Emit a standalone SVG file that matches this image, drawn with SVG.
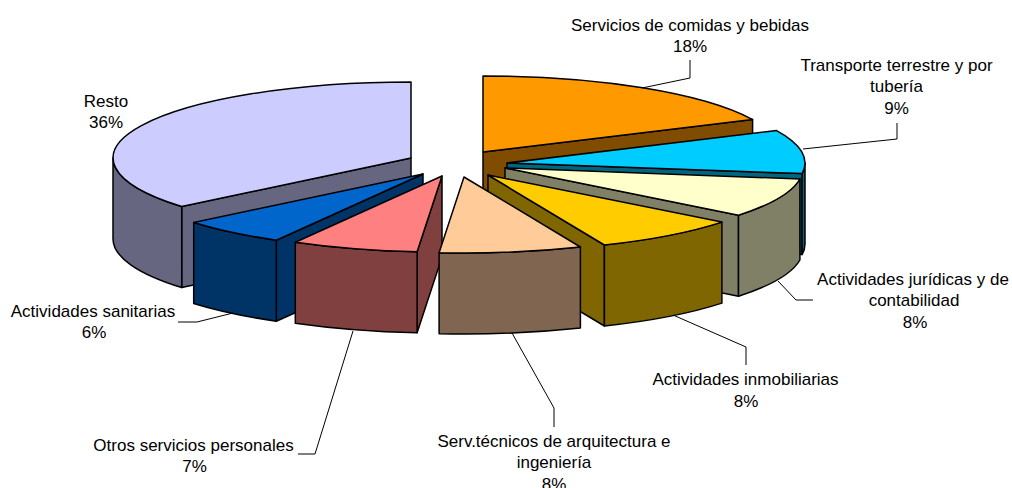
<svg xmlns="http://www.w3.org/2000/svg" width="1012" height="488" viewBox="0 0 1012 488">
<style>
  .f { stroke: #000; stroke-width: 1.5; stroke-linejoin: round; }
  .lbl { font-family: "Liberation Sans", Arial, sans-serif; font-size: 17px; fill: #000; text-anchor: middle; }
  .lead { fill: none; stroke: #000; stroke-width: 1; }
</style>
<rect width="1012" height="488" fill="#fff"/>

<g id="resto">
  <path class="f" fill="#666680" d="M411,158 L181.7,206.5 L181.7,287.5 L411,239 Z"/>
  <path class="f" fill="#666680" d="M181.7,206.5 A298,76 0 0 1 113,158 L113,239 A298,76 0 0 0 181.7,287.5 Z"/>
  <path class="f" fill="#CCCCFF" d="M411,158 L181.7,206.5 A298,76 0 0 1 411,82 Z"/>
</g>

<g id="comidas">
  <path class="f" fill="#804C00" d="M483,152 L752.6,119.6 L752.6,200.6 L483,233 Z"/>
  <path class="f" fill="#FF9900" d="M483,152 L483,76 A298,76 0 0 1 752.6,119.6 Z"/>
</g>

<g id="transporte">
  <path class="f" fill="#006680" d="M507,163 L802.1,173.6 L802.1,254.6 L507,244 Z"/>
  <path class="f" fill="#006680" d="M805,163 A298,76 0 0 1 802.1,173.6 L802.1,254.6 A298,76 0 0 0 805,244 Z"/>
  <path class="f" fill="#00CCFF" d="M507,163 L776.6,130.6 A298,76 0 0 1 802.1,173.6 Z"/>
</g>

<g id="juridicas">
  <path class="f" fill="#808066" d="M505,168 L738.5,215.2 L738.5,296.2 L505,249 Z"/>
  <path class="f" fill="#808066" d="M799.9,179 A298,76 0 0 1 738.5,215.2 L738.5,296.2 A298,76 0 0 0 799.9,260 Z"/>
  <path class="f" fill="#FFFFCC" d="M505,168 L799.9,179 A298,76 0 0 1 738.5,215.2 Z"/>
</g>

<g id="inmobiliarias">
  <path class="f" fill="#806600" d="M488,175 L604.4,245 L604.4,326 L488,256 Z"/>
  <path class="f" fill="#806600" d="M721.9,222.1 A298,76 0 0 1 604.4,245 L604.4,326 A298,76 0 0 0 721.9,303.1 Z"/>
  <path class="f" fill="#FFCC00" d="M488,175 L721.9,222.1 A298,76 0 0 1 604.4,245 Z"/>
</g>

<g id="sanitarias">
  <path class="f" fill="#003366" d="M423,174 L276.3,240.2 L276.3,321.2 L423,255 Z"/>
  <path class="f" fill="#003366" d="M276.3,240.2 A298,76 0 0 1 193.7,222.5 L193.7,303.5 A298,76 0 0 0 276.3,321.2 Z"/>
  <path class="f" fill="#0066CC" d="M423,174 L276.3,240.2 A298,76 0 0 1 193.7,222.5 Z"/>
</g>

<g id="otros">
  <path class="f" fill="#804040" d="M442,176 L417.1,251.7 L417.1,332.7 L442,257 Z"/>
  <path class="f" fill="#804040" d="M417.1,251.7 A298,76 0 0 1 295.3,242.2 L295.3,323.2 A298,76 0 0 0 417.1,332.7 Z"/>
  <path class="f" fill="#FF8080" d="M442,176 L417.1,251.7 A298,76 0 0 1 295.3,242.2 Z"/>
</g>

<g id="tecnicos">
  <path class="f" fill="#806650" d="M580.4,247 A298,76 0 0 1 439.1,252.7 L439.1,333.7 A298,76 0 0 0 580.4,328 Z"/>
  <path class="f" fill="#FFCC99" d="M464,177 L580.4,247 A298,76 0 0 1 439.1,252.7 Z"/>
</g>

<g id="connectors">
  <polyline class="lead" points="690,60 690,78 642,88"/>
  <polyline class="lead" points="897,123 897,139 803,149"/>
  <polyline class="lead" points="813,300 796,300 778,281"/>
  <polyline class="lead" points="746,365 746,347 673,315"/>
  <polyline class="lead" points="554,427 554,408 512,333"/>
  <polyline class="lead" points="298,454 315,454 353,331"/>
  <polyline class="lead" points="178,322 197,322 233,313"/>
</g>

<g id="labels">
  <text class="lbl" x="690" y="30.5">Servicios de comidas y bebidas</text>
  <text class="lbl" x="690" y="52">18%</text>
  <text class="lbl" x="896.5" y="70.5">Transporte terrestre y por</text>
  <text class="lbl" x="896.5" y="92.2">tubería</text>
  <text class="lbl" x="896.5" y="114">9%</text>
  <text class="lbl" x="913" y="284.5">Actividades jurídicas y de</text>
  <text class="lbl" x="914" y="306">contabilidad</text>
  <text class="lbl" x="915" y="327.5">8%</text>
  <text class="lbl" x="745.5" y="385">Actividades inmobiliarias</text>
  <text class="lbl" x="746" y="406.5">8%</text>
  <text class="lbl" x="554" y="446.5">Serv.técnicos de arquitectura e</text>
  <text class="lbl" x="554" y="468">ingeniería</text>
  <text class="lbl" x="554" y="489.5">8%</text>
  <text class="lbl" x="193.5" y="450.5">Otros servicios personales</text>
  <text class="lbl" x="194.5" y="472">7%</text>
  <text class="lbl" x="93" y="316.5">Actividades sanitarias</text>
  <text class="lbl" x="94" y="337.5">6%</text>
  <text class="lbl" x="106" y="106.5">Resto</text>
  <text class="lbl" x="106" y="128">36%</text>
</g>
</svg>
